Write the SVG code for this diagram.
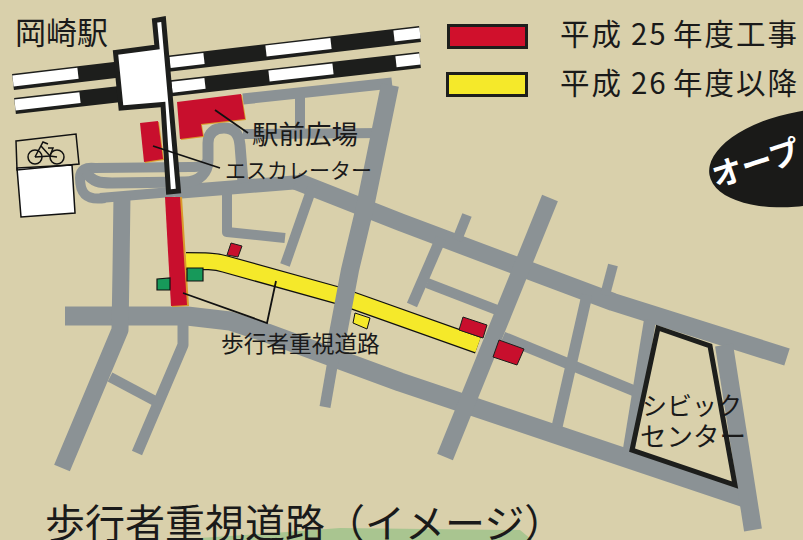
<svg xmlns="http://www.w3.org/2000/svg" width="803" height="540" viewBox="0 0 803 540">
<style>
.road{fill:none;stroke:#8b9295;stroke-linejoin:round}
.rail{stroke:#1d1e1c;stroke-width:16;fill:none}
.gap{stroke:#fff;stroke-width:11;fill:none}
.red{fill:#c80f2d;stroke:#1d1e1c;stroke-width:1}
.redp{fill:#c80f2d}
.edge{fill:#d99a2b}
.green{fill:#17995a;stroke:#111;stroke-width:1.2}
.lead{fill:none;stroke:#111;stroke-width:1.8}
.bike{fill:none;stroke:#111;stroke-width:1.5}
text{font-family:"Noto Sans CJK JP","Noto Sans",sans-serif;fill:#1a1a1a}
</style>
<rect width="803" height="540" fill="#d9d0ab"/>
<polygon points="170,540 260,534 340,528 520,530 532,540" fill="#a9c590"/>

<g id="roads">
<polyline class="road" stroke-width="19" points="65,316 187,316 230,321 267,333 400,382 620,456 745,498"/>
<polyline class="road" stroke-width="10" points="100,198 183,191"/>
<polyline class="road" stroke-width="14" points="175,192 300,182"/>
<polyline class="road" stroke-width="18" points="296,181 400,222 517,266 613,302 787,357"/>
<polyline class="road" stroke-width="11" points="243,99 392,83"/>
<polyline class="road" stroke-width="10" points="300,97 300,133"/>
<polyline class="road" stroke-width="10" points="243,134 385,133"/>
<path class="road" stroke-width="10" d="M105,198C85,201 80,192 80,178C80,169 86,167 95,168L190,167C200,167 206,166 208,160"/>
<path class="road" stroke-width="11" d="M86,172C92,182 100,183 112,183L185,182C200,182 208,172 208,160L208,143C208,132 215,128 224,128C234,128 239,134 240,145L243,183"/>
<polyline class="road" stroke-width="10" points="227,188 227,232 285,238"/>
<polyline class="road" stroke-width="10" points="313,185 285,265"/>
<polyline class="road" stroke-width="17" points="122,195 121,270 120,330 62,468"/>
<polyline class="road" stroke-width="10" points="110,377 157,402"/>
<polyline class="road" stroke-width="11" points="183,320 183,345 137,453"/>
<polyline class="road" stroke-width="10" points="467,215 457,240"/>
<polyline class="road" stroke-width="11" points="441,238 412,305"/>
<polyline class="road" stroke-width="10" points="427,283 497,310"/>
<polyline class="road" stroke-width="11" points="503,337 637,392"/>
<polyline class="road" stroke-width="10" points="613,265 605,295"/>
<polyline class="road" stroke-width="11" points="587,295 557,427"/>
<polyline class="road" stroke-width="12" points="650,320 628,455"/>
<polyline class="road" stroke-width="18" points="724,345 753,530"/>
</g>

<g id="yellow-road">
<path d="M186,261C205,261 215,261 225,264L340,296L478,345" fill="none" stroke="#111" stroke-width="18"/>
<path d="M186,261C205,261 215,261 225,264L340,296L478,345" fill="none" stroke="#f5e92a" stroke-width="15.5"/>
<polygon points="355,313 370,318 367,329 353,323" fill="#f5e92a" stroke="#111" stroke-width="1"/>
</g>

<g id="roads-over">
<polyline class="road" stroke-width="18" points="390,85 365,207 350,270 334,355"/>
<polyline class="road" stroke-width="11" points="334,355 325,407"/>
<polyline class="road" stroke-width="17" points="550,198 445,457"/>
</g>

<g id="tracks">
<line class="rail" x1="13" y1="82" x2="420" y2="34"/>
<line class="rail" x1="15" y1="106" x2="420" y2="60"/>
<line class="gap" x1="13" y1="81" x2="78" y2="73.300"/>
<line class="gap" x1="170" y1="62.500" x2="204" y2="58.500"/>
<line class="gap" x1="266" y1="51" x2="331" y2="43.500"/>
<line class="gap" x1="394" y1="36" x2="420" y2="33"/>
<line class="gap" x1="15" y1="105" x2="80" y2="97.600"/>
<line class="gap" x1="172" y1="87.200" x2="205" y2="83.400"/>
<line class="gap" x1="269" y1="76" x2="333" y2="68.900"/>
<line class="gap" x1="396" y1="61.700" x2="420" y2="59"/>
</g>

<g id="station">
<polygon points="115.500,52.500 157,47 154.500,20.500 163.500,19 178.500,191 168.500,192 163,104.500 121,108" fill="#fff" stroke="#1d1e1c" stroke-width="5"/>
</g>

<g id="red-areas">
<polygon class="edge" points="178,103 242,95 246,120 202,125 204,137 181,140"/>
<polygon class="redp" points="177,102 241,94 245,119 201,124 203,136 180,139"/>
<polygon class="edge" points="141,124 159,122 164,160 145,163"/>
<polygon class="redp" points="140,123 158,121 163,159 144,162"/>
<polygon class="edge" points="166,197 182,197 189,306 172,307"/>
<polygon class="redp" points="165,197 180,197 187,305 171,306"/>
<polygon class="red" points="231,243 242,246 238,257 227,255"/>
<polygon class="red" points="463,317 487,325 483,338 459,330"/>
<polygon class="red" points="499,340 524,349 517,365 493,357"/>
</g>

<g id="green-areas">
<polygon class="green" points="157,279 170,278 170,290 157,290"/>
<polygon class="green" points="187,268 203,268 203,281 187,281"/>
</g>

<g id="bike-parking">
<polygon points="17,168 72,165 75,213 21,217" fill="#fff" stroke="#111" stroke-width="1.5"/>
<polygon points="16,141 76,134 79,164 17,170" fill="none" stroke="#111" stroke-width="1.5"/>
<circle class="bike" cx="35" cy="157" r="7"/>
<circle class="bike" cx="57" cy="157" r="7"/>
<polyline class="bike" points="35,157 43,142 48,144"/>
<polyline class="bike" points="41,146 50,156 57,157"/>
<polyline class="bike" points="35,157 50,156 53,148 48,148"/>
</g>

<g id="civic-center">
<polygon points="658,328 710,346 735,485 632,450" fill="none" stroke="#1d1e1c" stroke-width="5"/>
<text x="642" y="415" font-size="25">シビック</text>
<text x="640" y="446" font-size="26.500">センター</text>
</g>

<g id="leaders">
<line class="lead" x1="215" y1="110" x2="248" y2="133"/>
<line class="lead" x1="153" y1="146" x2="220" y2="168"/>
<polyline class="lead" points="183,293 267,323 276,281"/>
</g>

<g id="legend">
<rect x="448.500" y="25.500" width="78" height="22" fill="#d0102c" stroke="#1d1e1c" stroke-width="3"/>
<rect x="447.500" y="73.500" width="79" height="22" fill="#f5e92a" stroke="#1d1e1c" stroke-width="3"/>
<text font-size="29.500" y="45" letter-spacing="2"><tspan x="560">平成</tspan><tspan x="631">25</tspan><tspan x="673">年度工事</tspan></text>
<text font-size="29.500" y="94" letter-spacing="2"><tspan x="560">平成</tspan><tspan x="631">26</tspan><tspan x="673">年度以降</tspan></text>
</g>

<g id="open-badge">
<ellipse cx="806" cy="158" rx="98" ry="47" transform="rotate(-10 806 158)" fill="#1a1a18"/>
<text x="716" y="188" font-size="31" font-weight="700" transform="rotate(-18 716 188)" style="fill:#fff">オープ</text>
</g>

<g id="labels">
<text x="15" y="44" font-size="31">岡崎駅</text>
<text x="252" y="144" font-size="26.500">駅前広場</text>
<text x="225" y="178" font-size="21">エスカレーター</text>
<text x="221" y="352" font-size="22.700">歩行者重視道路</text>
<text x="45" y="538" font-size="40">歩行者重視道路（イメージ）</text>
</g>
</svg>
